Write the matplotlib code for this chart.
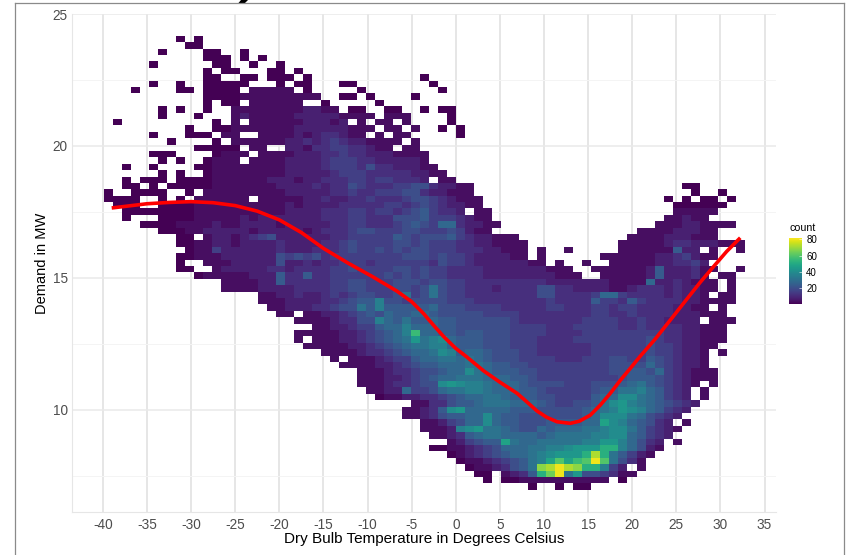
import numpy as np
import matplotlib
matplotlib.use("Agg")
import matplotlib.pyplot as plt
from matplotlib.lines import Line2D
from matplotlib.patches import Polygon

W, H = 848, 555
plt.rcParams['font.family'] = ['Liberation Sans', 'DejaVu Sans']
plt.rcParams['axes.unicode_minus'] = False

# Heat map levels, top row first. Blocks of ten columns.
# '.' = empty cell, '0' = about 1 count, others = base-21 digit x 4 counts.
COUNT_ROWS = [
"........0. 0",
".........0 0",
"......0... .00..0",
".......... .000.0.0",
".....0.... ..00..0..0",
".......... .0.00...00 .0",
".......... .00..00.00 0.0....... .....0",
".....0..0. .00000...0 .00...00.. ......0",
"...0....00 .0000.1111 1.0.....0. .......0",
".......... .000011111 1111..00.0 ....0",
".......... .0.00.1111 11..0..... 0",
"......0.0. .0..111111 112211.00. .00..0.00.",
"......0... 0...121111 1222221111 .111....0",
".0........ ..0.1.1111 1122212.1. 11.1....0",
".........0 ..00111111 1222222111 .11.1..0.0",
".....0...0 00.11..111 121233211. 1.11.....0",
".......0.. ..0.111111 2232343221 111.1",
".......... 00000.11.. 2213344332 11.11",
".....000.. ..0111.111 1222334332 221111",
"......0.0. .0111.1111 2222344433 222221",
"..0..0.... 0011111111 2222344435 3322211",
"......0.0. .011111111 2222234443 33332211",
"..0.000.00 0011111122 2122333443 443332.11.",
"..00.0.000 0011111112 2223233543 3344553221 1......... .......... ....00....",
"0..0000..0 .111111111 2222233433 4445532211 1......... .......... .....0..0.",
"0000..0.0. 111111.111 1122322334 3334554321 11........ .......... ..0.0.00.0",
".000..0000 1111111111 2122223333 3443454322 11........ .......... ...000000.",
"..00000000 1111111111 2222333443 4434564332 .11....... .......... ...11111..",
"..0...0000 1111121222 2222333443 3355564443 211....... .......... ..11211...",
"....000011 1121122221 2222233443 3345654773 2211...... .......... .111221111",
"......0001 1222221222 2212333455 4445544454 211....... .........1 11122211..",
"........00 .122123452 2222233444 4465455564 322111.... ........11 11222111",
"........00 1122122223 2222334544 4455454443 3221111... .......111 1123322211 1",
".........0 1142222223 2223334544 5454554443 3322111.1. .1.....111 111622.1.. 1",
"........00 1112222225 4545344444 4445554544 3222211.1. .....11111 12234211..",
"........0. .111222225 2232334443 4444443544 322222211. 1..1..1111 1223342...",
"........00 ..12222233 2333344544 4455454433 3322222221 11..111111 26222311.. 1",
".......... 0111112226 3363344444 4545454433 3322222222 111..11111 2622231.11",
".......... ...1111226 3333344554 4455545544 3333333332 2222221111 72232111.1",
".......... ...1111222 2333344554 4455458544 3332333355 3322221123 33232211.1",
".......... .......112 2322343455 4458458544 3333333355 3333477433 3323221.11",
".......... .......111 2222334566 9554555544 4333333334 3333644364 3333221111",
".......... ........11 2223345586 9666667555 4444333334 4333443443 3332211.1.",
".......... .........1 1.11223456 5766776555 5544443333 3333443343 333222111.",
".......... .......... .111123355 9768667665 5555543333 3334444334 332222.111",
".......... .......... ...1122344 6779777665 5555544443 3344444334 333322111.",
".......... .......... .111112234 5679e77665 6655544443 3334444444 443322111.",
".......... .......... .1.1112234 5678b89a76 6655544433 3344444444 543322111.",
".......... .......... ..11111223 4567889976 6655544433 3333444444 54432211..",
".......... .......... ....111123 3456778a96 7765554433 3333444444 5443221.1.",
".......... .......... .....1.111 2344677887 8765554444 3334445544 6543221...",
".......... .......... ......1111 2234566777 8876655444 4444445555 7543221...",
".......... .......... ........11 1233455677 a876665544 4444445566 57432111..",
".......... .......... ........11 1223456778 8877766544 4444444566 65432111..",
".......... .......... ........11 1233455aba 9987776555 5444555678 654321.1..",
".......... .......... .........1 1227445788 9987776654 4444566889 76432.1...",
".......... .......... .......... 0112233456 7788766655 4444677aa8 76432.1...",
".......... .......... .......... ....113356 6788877765 445568ab98 765432....",
".......... .......... .......... ...11236ab 7777766655 5556789ba9 76432.....",
".......... .......... .......... ...1123566 77a7665555 55567aaa87 5432......",
".......... .......... .......... .....11245 77a7665556 66677ca976 532.1.....",
".......... .......... .......... .....11129 ab88765576 777889aa86 4321......",
".......... .......... .......... ......1123 6788777767 888899aa76 432.......",
".......... .......... .......... ........12 4566c87788 88899bb975 32.1......",
".......... .......... .......... ......0011 2345777889 9abbbdd975 21........",
".......... .......... .......... ........01 234567789a bbbdid8642 1.........",
".......... .......... .......... .........0 112345689c fcefkf8531",
".......... .......... .......... .......... 01123568hi kihdd942.1",
".......... .......... .......... .......... .00.1236dg k8b554311.",
".......... .......... .......... .......... ..0.001111 111111.0..",
".......... .......... .......... .......... .......0.. 0.00",
]
COUNT_PER_LEVEL = 4
X_FIRST_EDGE, X_BIN = -39.85, 1.0227
Y_TOP_EDGE, Y_BIN = 24.17, 0.2422

# Red smoothing curve
CURVE_X = [-39, -37, -35, -32.5, -30, -27.5, -25, -22.5, -20, -17.5, -15, -12.15, -9.5,
           -6.67, -5, -3.65, -2.5, -1.38, 0, 1.27, 3.15, 5, 6.94, 8, 9.2, 10.3, 11.47, 12.98,
           14, 15.25, 16.38, 17.5, 18.65, 19.8, 20.9, 22.6, 24.5, 26.2, 27.7, 29.2, 30.7, 32.25]
CURVE_Y = [17.65, 17.73, 17.81, 17.86, 17.89, 17.85, 17.74, 17.53, 17.2, 16.72, 16.12, 15.55, 15.06,
           14.5, 14.1, 13.65, 13.2, 12.78, 12.33, 12.0, 11.48, 11.05, 10.63,
           10.32, 9.96, 9.72, 9.55, 9.49, 9.57, 9.8, 10.18, 10.62, 11.12, 11.58, 12.03, 12.68, 13.48,
           14.2, 14.83, 15.42, 16.0, 16.52]

X_TICKS = list(range(-40, 40, 5))
Y_TICKS = [10, 15, 20, 25]
Y_MINOR = [7.5, 12.5, 17.5, 22.5]
CBAR_TICKS = [20, 40, 60, 80]

n_cols = 71
grid = np.full((len(COUNT_ROWS), n_cols), np.nan)
for r, row in enumerate(COUNT_ROWS):
    s = row.replace(" ", "")[:n_cols]
    for c, ch in enumerate(s):
        if ch != '.':
            v = int(ch, 21)
            grid[r, c] = 1 if v == 0 else v * COUNT_PER_LEVEL
x_edges = X_FIRST_EDGE + X_BIN * np.arange(n_cols + 1)
y_edges = Y_TOP_EDGE - Y_BIN * np.arange(len(COUNT_ROWS) + 1)

def box(l, t, r, b):
    return [l / W, 1 - b / H, (r - l) / W, (b - t) / H]

fig = plt.figure(figsize=(W / 100, H / 100), dpi=100, facecolor='white')
ax = fig.add_axes(box(72, 14, 776, 512))
ax.set_xlim(-43.5, 36.3)
ax.set_ylim(6.13, 25)
ax.set_axisbelow(True)
for name, s in ax.spines.items():
    s.set_visible(name in ('left', 'bottom'))
    s.set_color('#e6e6e6')
    s.set_linewidth(0.8)
ax.set_xticks(X_TICKS)
ax.set_yticks(Y_TICKS)
ax.set_yticks(Y_MINOR, minor=True)
ax.grid(True, axis='x', which='major', color='#dfdfdf', lw=1.1)
ax.grid(True, axis='y', which='major', color='#e9e9e9', lw=1.1)
ax.grid(True, axis='y', which='minor', color='#f4f4f4', lw=0.7)
ax.tick_params(which='both', length=0)
ax.tick_params(axis='x', labelsize=9.8, labelcolor='#4d4d4d', pad=4)
ax.tick_params(axis='y', labelsize=9.8, labelcolor='#4d4d4d', pad=3)

mesh = ax.pcolormesh(x_edges, y_edges, np.ma.masked_invalid(grid), cmap='viridis',
                     vmin=1, vmax=82, linewidth=0, antialiased=False, zorder=2)
ax.plot(CURVE_X, CURVE_Y, color='#ff0000', lw=2.6, solid_capstyle='butt',
        solid_joinstyle='round', zorder=3)

ax.set_xlabel('Dry Bulb Temperature in Degrees Celsius', fontsize=11, color='black', va='center')
ax.xaxis.set_label_coords(0.5, -(539 - 512) / 498)
ax.set_ylabel('Demand in MW', fontsize=10.5, color='black', va='center')
ax.yaxis.set_label_coords(-(72 - 42) / 704, 0.5)

cax = fig.add_axes(box(789, 237.7, 802, 304))
cb = fig.colorbar(mesh, cax=cax, ticks=CBAR_TICKS)
cb.outline.set_visible(False)
cb.ax.tick_params(length=2.5, width=0.4, color='white', direction='in',
                  labelsize=7, labelcolor='black', pad=3)
fig.text(789 / W, 1 - 228 / H, 'count', fontsize=7.7, color='black', va='center', ha='left')

# Frame of the screenshot and the clipped remnant of a title above it
def fx(p):
    return p / W
def fy(p):
    return 1 - p / H
for xs, ys in [((14.5, 843.5), (3.3, 3.3)), ((14.5, 14.5), (3.3, 555)), ((843.5, 843.5), (3.3, 555))]:
    fig.add_artist(Line2D([fx(v) for v in xs], [fy(v) for v in ys], color='#8a8a8a', lw=0.9))
fig.add_artist(Polygon([(fx(238.5), fy(3)), (fx(245), fy(3)), (fx(248), fy(0)), (fx(241), fy(0))],
                       closed=True, facecolor='black', edgecolor='none', transform=fig.transFigure))

fig.savefig('out.png', dpi=100)
